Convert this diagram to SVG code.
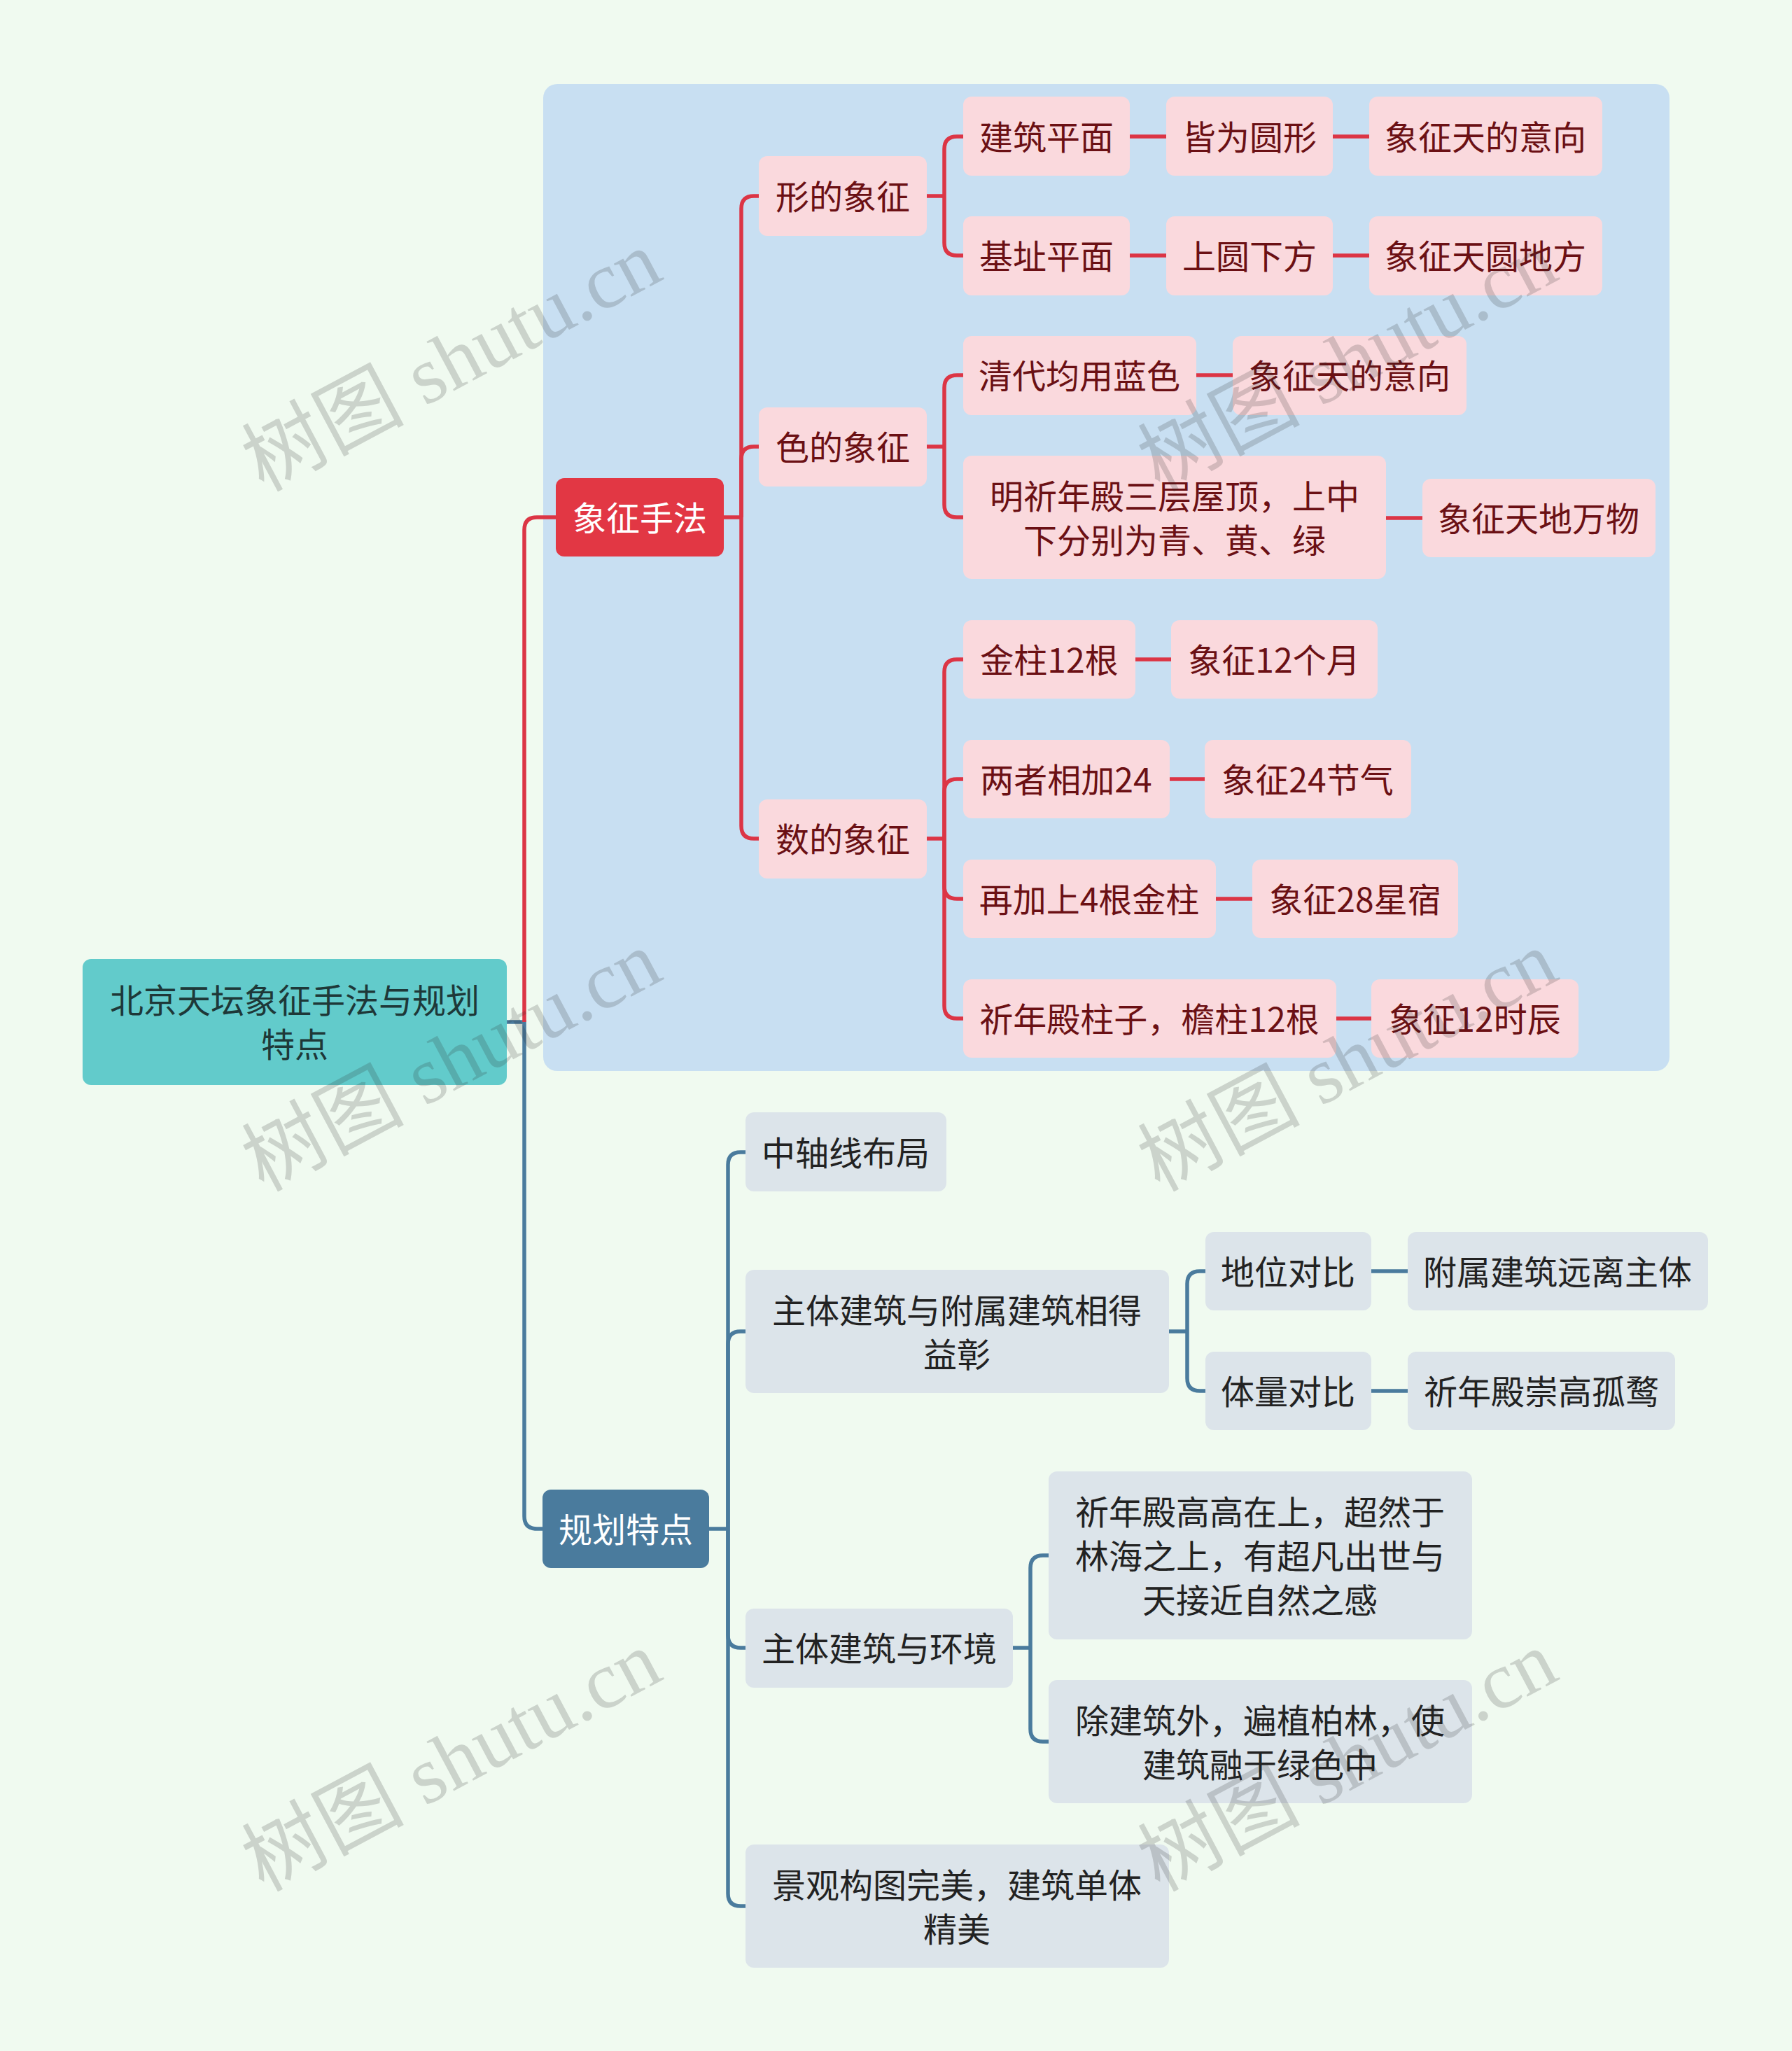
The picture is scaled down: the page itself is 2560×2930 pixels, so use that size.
<svg xmlns="http://www.w3.org/2000/svg" width="2560" height="2930" viewBox="0 0 2560 2930">
<style>
text{font-family:"Noto Sans CJK SC","Noto Sans",sans-serif;font-size:48px;text-anchor:middle;dominant-baseline:central}
.root rect{fill:#62CBCB}
.root text{fill:#1E3838}
.l1r rect{fill:#E23744}
.l1b rect{fill:#4A7B9D}
.l1r text,.l1b text{fill:#FFFFFF}
.pk rect{fill:#FAD9DD}
.pk text{fill:#6B1014}
.gr rect{fill:#DCE4EA}
.gr text{fill:#222222}
.er{fill:none;stroke:#DC3545;stroke-width:5.5}
.eb{fill:none;stroke:#4A7B9D;stroke-width:5.5}
.wm text{font-family:"Liberation Serif","Noto Sans CJK SC",serif;font-size:116px;fill:#2D2D2D;fill-opacity:0.19}
</style>
<rect x="0" y="0" width="2560" height="2930" fill="#F0FAF0"/>
<rect id="panel" x="776" y="120" width="1609" height="1410" rx="20" fill="#C8DFF2"/>

<g id="connectors">
  <path class="eb" d="M724,1460 H749 V2166 Q749,2184 767,2184 H775"/>
  <path class="er" d="M749,1460 V757 Q749,739 767,739 H794"/>
  <path class="er" d="M1034,739 H1059"/>
  <path class="er" d="M1059,739 V298 Q1059,280 1077,280 H1084"/>
  <path class="er" d="M1059,739 V656 Q1059,638 1077,638 H1084"/>
  <path class="er" d="M1059,739 V1180 Q1059,1198 1077,1198 H1084"/>
  <path class="er" d="M1324,280 H1349"/>
  <path class="er" d="M1349,280 V213 Q1349,195 1367,195 H1376"/>
  <path class="er" d="M1349,280 V347 Q1349,365 1367,365 H1376"/>
  <path class="er" d="M1614,195 H1666 M1904,195 H1956 M1614,365 H1666 M1904,365 H1956"/>
  <path class="er" d="M1324,638 H1349"/>
  <path class="er" d="M1349,638 V554 Q1349,536 1367,536 H1376"/>
  <path class="er" d="M1349,638 V721 Q1349,739 1367,739 H1376"/>
  <path class="er" d="M1709,536 H1761 M1980,740 H2032"/>
  <path class="er" d="M1324,1198 H1349"/>
  <path class="er" d="M1349,1198 V960 Q1349,942 1367,942 H1376"/>
  <path class="er" d="M1349,1198 V1131 Q1349,1113 1367,1113 H1376"/>
  <path class="er" d="M1349,1198 V1266 Q1349,1284 1367,1284 H1376"/>
  <path class="er" d="M1349,1198 V1437 Q1349,1455 1367,1455 H1376"/>
  <path class="er" d="M1622,942 H1673 M1671,1113 H1721 M1737,1284 H1789 M1909,1455 H1959"/>
  <path class="eb" d="M1013,2184 H1040"/>
  <path class="eb" d="M1040,2184 V1664 Q1040,1646 1058,1646 H1065"/>
  <path class="eb" d="M1040,2184 V1920 Q1040,1902 1058,1902 H1065"/>
  <path class="eb" d="M1040,2184 V2336 Q1040,2354 1058,2354 H1065"/>
  <path class="eb" d="M1040,2184 V2705 Q1040,2723 1058,2723 H1065"/>
  <path class="eb" d="M1670,1902 H1696"/>
  <path class="eb" d="M1696,1902 V1834 Q1696,1816 1714,1816 H1722"/>
  <path class="eb" d="M1696,1902 V1969 Q1696,1987 1714,1987 H1722"/>
  <path class="eb" d="M1959,1816 H2011 M1959,1987 H2011"/>
  <path class="eb" d="M1447,2354 H1472"/>
  <path class="eb" d="M1472,2354 V2240 Q1472,2222 1490,2222 H1498"/>
  <path class="eb" d="M1472,2354 V2470 Q1472,2488 1490,2488 H1498"/>
</g>

<g id="n-root" class="root"><rect x="118" y="1370" width="606" height="180" rx="12"/><text x="421" y="1426">北京天坛象征手法与规划<tspan x="421" dy="63">特点</tspan></text></g>
<g id="n-xzsf" class="l1r"><rect x="794" y="683" width="240" height="112" rx="12"/><text x="914" y="737">象征手法</text></g>
<g id="n-ghtd" class="l1b"><rect x="775" y="2128" width="238" height="112" rx="12"/><text x="894" y="2182">规划特点</text></g>

<g id="n-xdxz" class="pk"><rect x="1084" y="223" width="240" height="114" rx="12"/><text x="1204" y="278">形的象征</text></g>
<g id="n-sdxz" class="pk"><rect x="1084" y="582" width="240" height="113" rx="12"/><text x="1204" y="636">色的象征</text></g>
<g id="n-shuxz" class="pk"><rect x="1084" y="1142" width="240" height="113" rx="12"/><text x="1204" y="1196">数的象征</text></g>

<g id="n-jzpm" class="pk"><rect x="1376" y="138" width="238" height="113" rx="12"/><text x="1495" y="193">建筑平面</text></g>
<g id="n-jwyx" class="pk"><rect x="1666" y="138" width="238" height="113" rx="12"/><text x="1785" y="193">皆为圆形</text></g>
<g id="n-xztdyx1" class="pk"><rect x="1956" y="138" width="333" height="113" rx="12"/><text x="2122" y="193">象征天的意向</text></g>
<g id="n-jzpm2" class="pk"><rect x="1376" y="309" width="238" height="113" rx="12"/><text x="1495" y="363">基址平面</text></g>
<g id="n-syxf" class="pk"><rect x="1666" y="309" width="238" height="113" rx="12"/><text x="1785" y="363">上圆下方</text></g>
<g id="n-xztydf" class="pk"><rect x="1956" y="309" width="333" height="113" rx="12"/><text x="2122" y="363">象征天圆地方</text></g>

<g id="n-qdjyls" class="pk"><rect x="1376" y="480" width="333" height="113" rx="12"/><text x="1542" y="534">清代均用蓝色</text></g>
<g id="n-xztdyx2" class="pk"><rect x="1761" y="480" width="334" height="113" rx="12"/><text x="1928" y="534">象征天的意向</text></g>
<g id="n-mqnd" class="pk"><rect x="1376" y="651" width="604" height="176" rx="12"/><text x="1678" y="706">明祈年殿三层屋顶，上中<tspan x="1678" dy="63">下分别为青、黄、绿</tspan></text></g>
<g id="n-xztdww" class="pk"><rect x="2032" y="684" width="333" height="112" rx="12"/><text x="2198" y="738">象征天地万物</text></g>

<g id="n-jz12" class="pk"><rect x="1376" y="886" width="246" height="112" rx="12"/><text x="1499" y="940">金柱12根</text></g>
<g id="n-xz12gy" class="pk"><rect x="1673" y="886" width="295" height="112" rx="12"/><text x="1820" y="940">象征12个月</text></g>
<g id="n-lzxj24" class="pk"><rect x="1376" y="1057" width="295" height="112" rx="12"/><text x="1523" y="1111">两者相加24</text></g>
<g id="n-xz24jq" class="pk"><rect x="1721" y="1057" width="295" height="112" rx="12"/><text x="1868" y="1111">象征24节气</text></g>
<g id="n-zjs4" class="pk"><rect x="1376" y="1228" width="361" height="112" rx="12"/><text x="1556" y="1282">再加上4根金柱</text></g>
<g id="n-xz28" class="pk"><rect x="1789" y="1228" width="294" height="112" rx="12"/><text x="1936" y="1282">象征28星宿</text></g>
<g id="n-qndzz" class="pk"><rect x="1376" y="1399" width="533" height="112" rx="12"/><text x="1642" y="1453">祈年殿柱子，檐柱12根</text></g>
<g id="n-xz12sc" class="pk"><rect x="1959" y="1399" width="296" height="112" rx="12"/><text x="2107" y="1453">象征12时辰</text></g>

<g id="n-zzxbj" class="gr"><rect x="1065" y="1589" width="287" height="113" rx="12"/><text x="1208" y="1644">中轴线布局</text></g>
<g id="n-ztfs" class="gr"><rect x="1065" y="1814" width="605" height="176" rx="12"/><text x="1367" y="1869">主体建筑与附属建筑相得<tspan x="1367" dy="63">益彰</tspan></text></g>
<g id="n-dwdb" class="gr"><rect x="1722" y="1760" width="237" height="112" rx="12"/><text x="1840" y="1814">地位对比</text></g>
<g id="n-fsyl" class="gr"><rect x="2011" y="1760" width="429" height="112" rx="12"/><text x="2225" y="1814">附属建筑远离主体</text></g>
<g id="n-tldb" class="gr"><rect x="1722" y="1931" width="237" height="112" rx="12"/><text x="1840" y="1985">体量对比</text></g>
<g id="n-qncg" class="gr"><rect x="2011" y="1931" width="382" height="112" rx="12"/><text x="2202" y="1985">祈年殿崇高孤鹜</text></g>
<g id="n-zthj" class="gr"><rect x="1065" y="2298" width="382" height="113" rx="12"/><text x="1256" y="2352">主体建筑与环境</text></g>
<g id="n-qngg" class="gr"><rect x="1498" y="2102" width="605" height="240" rx="12"/><text x="1800" y="2157">祈年殿高高在上，超然于<tspan x="1800" dy="63">林海之上，有超凡出世与</tspan><tspan x="1800" dy="63">天接近自然之感</tspan></text></g>
<g id="n-cjzw" class="gr"><rect x="1498" y="2400" width="605" height="176" rx="12"/><text x="1800" y="2455">除建筑外，遍植柏林，使<tspan x="1800" dy="63">建筑融于绿色中</tspan></text></g>
<g id="n-jggt" class="gr"><rect x="1065" y="2635" width="605" height="176" rx="12"/><text x="1367" y="2690">景观构图完美，建筑单体<tspan x="1367" dy="63">精美</tspan></text></g>

<g id="watermarks" class="wm">
  <text transform="translate(645,516) rotate(-28)" x="0" y="0">树图 shutu.cn</text>
  <text transform="translate(1925,516) rotate(-28)" x="0" y="0">树图 shutu.cn</text>
  <text transform="translate(645,1516) rotate(-28)" x="0" y="0">树图 shutu.cn</text>
  <text transform="translate(1925,1516) rotate(-28)" x="0" y="0">树图 shutu.cn</text>
  <text transform="translate(645,2516) rotate(-28)" x="0" y="0">树图 shutu.cn</text>
  <text transform="translate(1925,2516) rotate(-28)" x="0" y="0">树图 shutu.cn</text>
</g>
</svg>
